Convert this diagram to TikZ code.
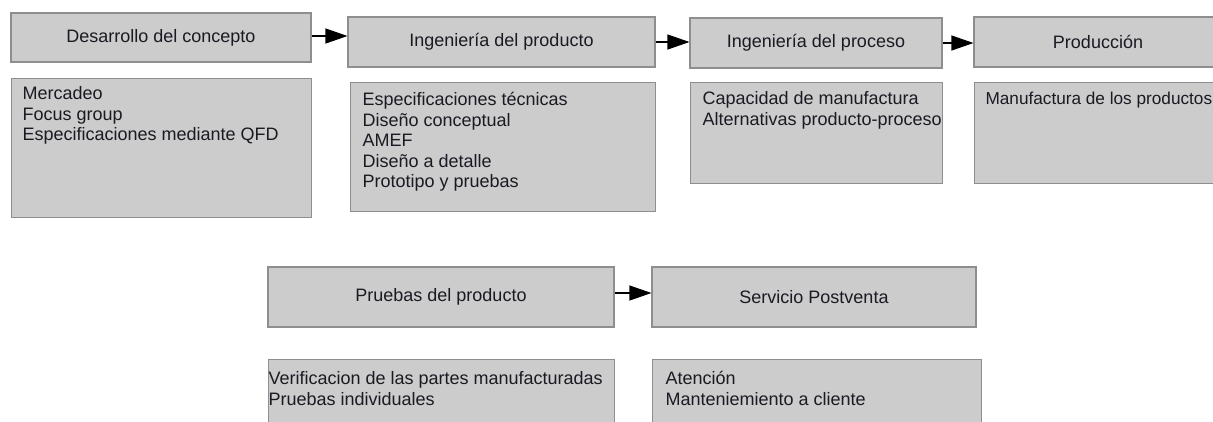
\documentclass[tikz,border=0pt]{standalone}
\usepackage{fontspec}
\setmainfont{Liberation Sans}
\usetikzlibrary{arrows.meta}
\definecolor{boxfill}{HTML}{CCCCCC}
\definecolor{boxline}{HTML}{8E8E8E}
\definecolor{txt}{HTML}{1A1A22}
\newcommand{\bodytxt}[5]{\parbox[c][#2][t]{#1}{\raggedright\leftskip=#3\relax\rule{0pt}{#4}#5}}
\tikzset{
  hdr/.style={draw=boxline, fill=boxfill, line width=1.1pt, inner sep=0pt, text=txt,
    font=\fontsize{18pt}{20.5pt}\selectfont},
  bodybox/.style={draw=boxline, fill=boxfill, line width=1.1pt, inner sep=0pt, anchor=north west, text=txt,
    font=\fontsize{18pt}{20.5pt}\selectfont},
  arr/.style={line width=1.1pt, -{Triangle[length=22pt,width=15pt]}}
}
\begin{document}
\begin{tikzpicture}[x=1pt,y=-1pt]
\useasboundingbox (0,0) rectangle (1213,421);
\clip (0,0) rectangle (1213,421);
% headers
\node[hdr, minimum width=300pt, minimum height=49pt] (h1) at (161,37.5) {Desarrollo del concepto};
\node[hdr, minimum width=307pt, minimum height=50pt] (h2) at (501.5,42) {Ingeniería del producto};
\node[hdr, minimum width=252pt, minimum height=50pt] (h3) at (816,43) {Ingeniería del proceso};
\node[hdr, minimum width=248pt, minimum height=50pt] (h4) at (1098,42) {Producción};
\node[hdr, minimum width=346pt, minimum height=60pt] (h5) at (441,297) {Pruebas del producto};
\node[hdr, minimum width=324pt, minimum height=60pt] (h6) at (814,297) {Servicio Postventa};
% bodies
\node[bodybox] (b1) at (11,78) {\bodytxt{300pt}{139pt}{11pt}{21pt}{Mercadeo\\Focus group\\Especificaciones mediante QFD}};
\node[bodybox] (b2) at (350,82) {\bodytxt{305pt}{129pt}{12pt}{23pt}{Especificaciones técnicas\\Diseño conceptual\\AMEF\\Diseño a detalle\\Prototipo y pruebas}};
\node[bodybox] (b3) at (690,82) {\bodytxt{252pt}{101pt}{12pt}{22pt}{Capacidad de manufactura\\Alternativas producto-proceso}};
\node[bodybox, font=\fontsize{17.2pt}{20.5pt}\selectfont] (b4) at (974,82) {\bodytxt{260pt}{101pt}{11pt}{22pt}{Manufactura de los productos}};
\node[bodybox] (b5) at (268,359) {\bodytxt{346pt}{90pt}{0pt}{25pt}{Verificacion de las partes manufacturadas\\Pruebas individuales}};
\node[bodybox] (b6) at (652,359) {\bodytxt{329pt}{90pt}{13pt}{25pt}{Atención\\Manteniemiento a cliente}};
% arrows
\draw[arr] ([yshift=1.5pt]h1.east) -- ([yshift=1.5pt]h1.east -| h2.west);
\draw[arr] (h2.east) -- (h2.east -| h3.west);
\draw[arr] (h3.east) -- (h3.east -| h4.west);
\draw[arr] ([yshift=4pt]h5.east) -- ([yshift=4pt]h5.east -| h6.west);
\end{tikzpicture}
\end{document}
